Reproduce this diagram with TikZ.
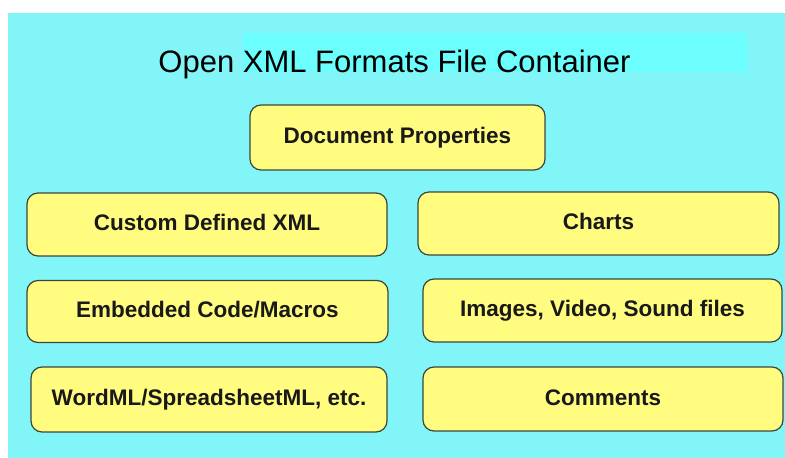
\documentclass[tikz,border=0pt]{standalone}
\usepackage{fontspec}
\setmainfont{Liberation Sans}
\definecolor{bgcyan}{RGB}{130,245,248}
\definecolor{bandcyan}{RGB}{108,253,253}
\definecolor{boxyellow}{RGB}{255,252,128}
\definecolor{boxline}{RGB}{60,70,56}
\begin{document}
\begin{tikzpicture}[x=1pt,y=-1pt,
  partbox/.style={draw=boxline, fill=boxyellow, line width=1.2pt, rounded corners=11pt,
    inner sep=0pt, text height=16pt, text depth=4pt,
    font=\fontsize{22.5}{27}\selectfont\bfseries, text=black!90}]
\useasboundingbox (0,0) rectangle (785,458);
\fill[white] (0,0) rectangle (785,458);
\fill[bgcyan] (8,13) rectangle (785,458);
\fill[bandcyan] (243,33) rectangle (747,72);
\node[font=\fontsize{31}{36}\selectfont, text=black, inner sep=0pt, text height=22pt, text depth=0pt] (title) at (394.5,61) {Open XML Formats File Container};
\node[partbox, minimum width=295pt, minimum height=65pt] (doc) at (397.5,137.5) {Document Properties};
\node[partbox, minimum width=360pt, minimum height=63pt] (custom) at (207,224.5) {Custom Defined XML};
\node[partbox, minimum width=361pt, minimum height=63pt] (charts) at (598.5,223.5) {Charts};
\node[partbox, minimum width=361pt, minimum height=62pt] (embedded) at (207.5,311.5) {Embedded Code/Macros};
\node[partbox, minimum width=359pt, minimum height=63pt] (images) at (602.5,310.5) {Images, Video, Sound files};
\node[partbox, minimum width=356pt, minimum height=65pt] (wordml) at (209,399.5) {WordML/SpreadsheetML, etc.};
\node[partbox, minimum width=360pt, minimum height=64pt] (comments) at (603,399) {Comments};
\end{tikzpicture}
\end{document}
